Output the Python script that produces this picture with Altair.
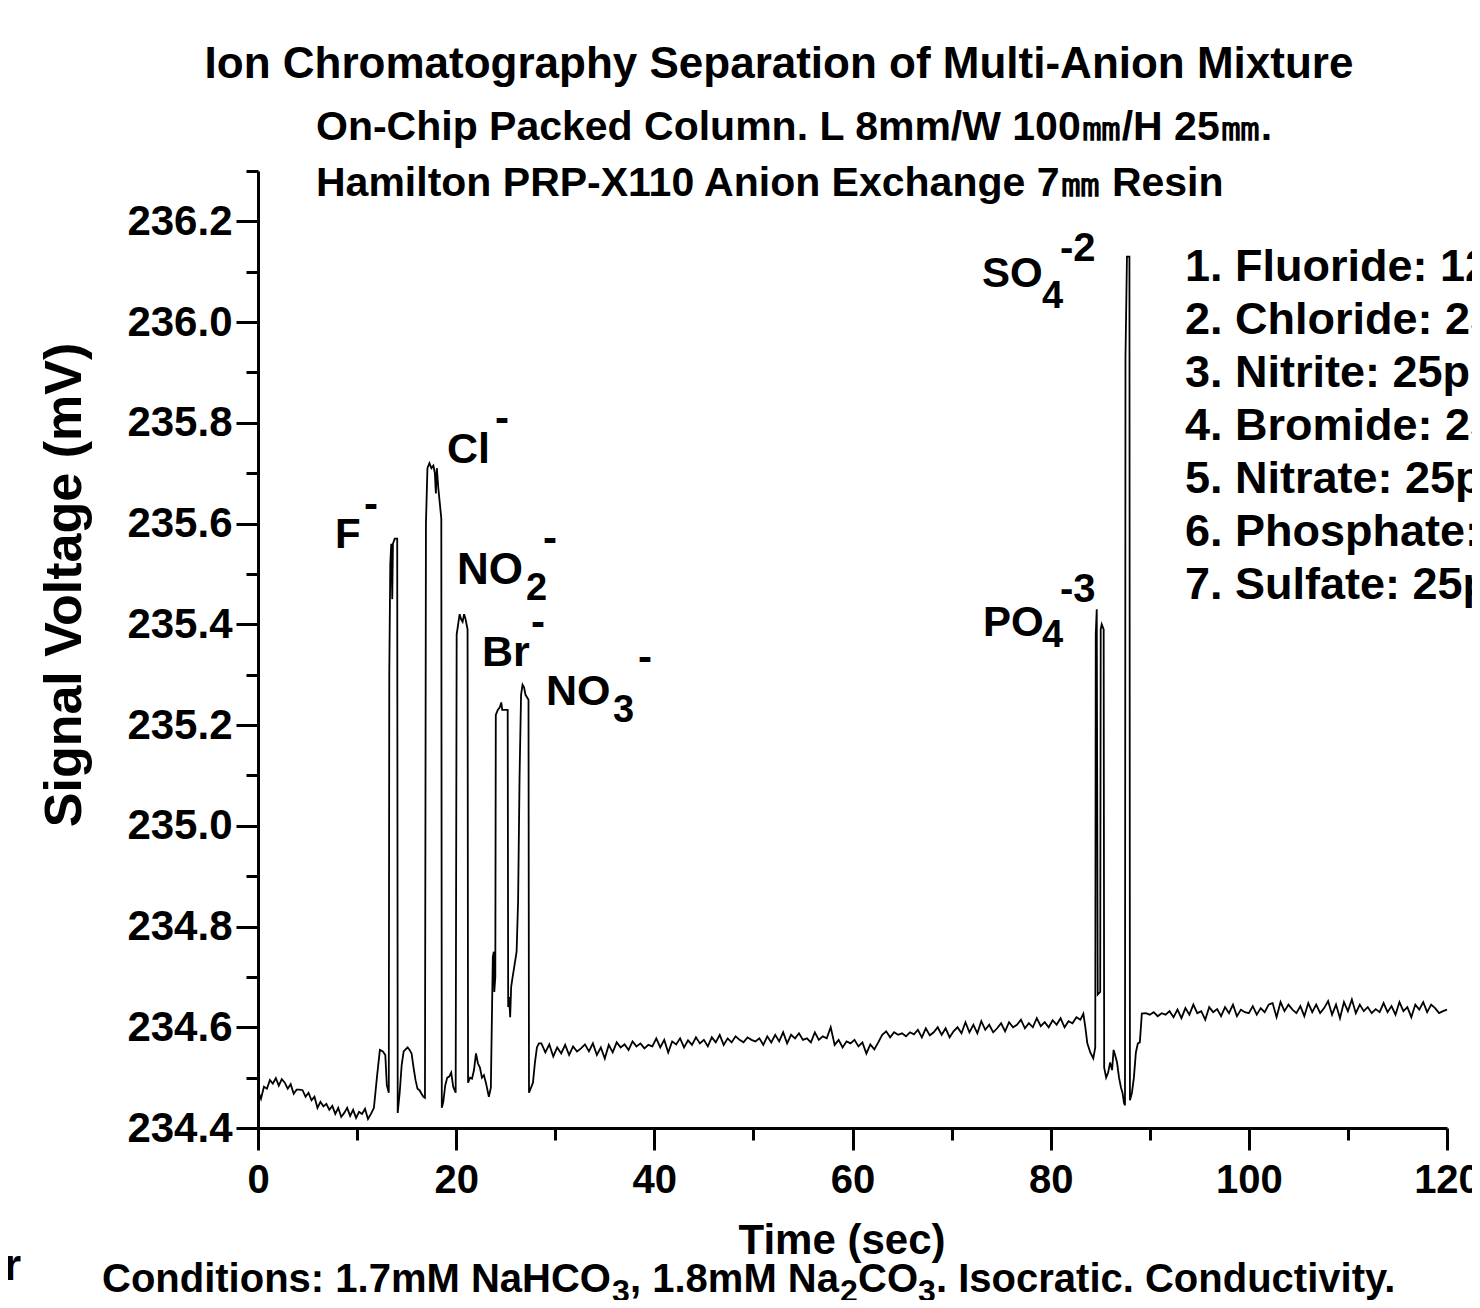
import altair as alt
import pandas as pd

# ---------------- data ----------------
# baseline before the first peaks
time_a = [0.0, 0.3, 0.6, 0.9, 1.2, 1.5, 1.8, 2.1, 2.4, 2.7, 3.0, 3.3, 3.6, 3.9, 4.2, 4.5, 4.8, 5.1, 5.4, 5.7,
          6.0, 6.3, 6.6, 6.9, 7.2, 7.5, 7.8, 8.1, 8.4, 8.7, 9.0, 9.3, 9.6, 9.9, 10.2, 10.5, 10.8, 11.1, 11.4, 11.7]
volt_a = [234.475, 234.458, 234.482, 234.478, 234.495, 234.488, 234.499, 234.484, 234.497, 234.49,
          234.478, 234.487, 234.468, 234.476, 234.476, 234.475, 234.462, 234.47, 234.455, 234.462,
          234.44, 234.452, 234.443, 234.448, 234.436, 234.444, 234.428, 234.44, 234.422, 234.43,
          234.44, 234.424, 234.436, 234.42, 234.432, 234.428, 234.438, 234.418, 234.428, 234.44]

# early peaks: F-, Cl-, NO2-, Br-, NO3-
time_b = [12.0, 12.3, 12.6, 12.85, 13.0, 13.2, 13.25, 13.35, 13.45, 13.55, 13.62, 13.8, 14.05, 14.1,
          14.3, 14.5, 14.7, 14.9, 15.1, 15.3, 15.5, 15.7, 15.9, 16.1, 16.3, 16.5, 16.7, 16.85,
          16.95, 17.1, 17.3, 17.5, 17.7, 17.85, 17.95, 18.05, 18.2, 18.35, 18.5, 18.55,
          18.7, 18.9, 19.1, 19.3, 19.5, 19.7, 19.95,
          20.05, 20.2, 20.35, 20.5, 20.65, 20.8, 20.95, 21.15, 21.2,
          21.4, 21.6, 21.8, 22.0, 22.2, 22.4, 22.6, 22.8, 23.0, 23.3, 23.5,
          23.7, 23.8, 23.85, 23.95, 24.0, 24.2, 24.4, 24.55, 24.65, 24.9, 25.2, 25.25,
          25.35, 25.45, 25.55, 25.7, 25.9, 26.1, 26.25, 26.4, 26.55, 26.7, 26.85, 27.0, 27.3, 27.35,
          27.55, 27.75, 27.95, 28.15, 28.35]
volt_b = [234.5, 234.555, 234.552, 234.545, 234.485, 234.47, 235.3, 235.52, 235.56, 235.45, 235.56, 235.57, 235.57, 234.43,
          234.47, 234.525, 234.552, 234.556, 234.56, 234.555, 234.548, 234.52, 234.495, 234.478, 234.475, 234.468, 234.462, 234.46,
          235.6, 235.71, 235.72, 235.71, 235.715, 235.7, 235.66, 235.71, 235.67, 235.64, 235.61, 234.44,
          234.452, 234.485, 234.5, 234.502, 234.51, 234.482, 234.47,
          235.38, 235.40, 235.42, 235.41, 235.405, 235.42, 235.41, 235.39, 234.49,
          234.5, 234.498, 234.515, 234.548, 234.528, 234.52, 234.5, 234.505, 234.49, 234.462, 234.48,
          234.74, 234.75, 234.67, 234.7, 235.22, 235.23, 235.235, 235.245, 235.23, 235.23, 235.23, 234.64,
          234.66, 234.62, 234.68, 234.7, 234.725, 234.75, 234.85, 235.1, 235.26, 235.28, 235.275, 235.26, 235.25, 234.47,
          234.48, 234.49, 234.53, 234.56, 234.568]

# middle baseline
time_c = [28.6, 29.0, 29.4, 29.8, 30.2, 30.6, 31.0, 31.4, 31.8, 32.2,
          32.6, 33.0, 33.4, 33.8, 34.2, 34.6, 35.0, 35.4, 35.8, 36.2,
          36.6, 37.0, 37.4, 37.8, 38.2, 38.6, 39.0, 39.4, 39.8, 40.2,
          40.6, 41.0, 41.4, 41.8, 42.2, 42.6, 43.0, 43.4, 43.8, 44.2,
          44.6, 45.0, 45.4, 45.8, 46.2, 46.6, 47.0, 47.4, 47.8, 48.2,
          48.6, 49.0, 49.4, 49.8, 50.2, 50.6, 51.0, 51.4, 51.8, 52.2,
          52.6, 53.0, 53.4, 53.8, 54.2, 54.6, 55.0, 55.4, 55.8, 56.2,
          56.6, 57.0, 57.4, 57.8, 58.2, 58.6, 59.0, 59.4, 59.8, 60.2,
          60.6, 61.0, 61.4, 61.8, 62.2, 62.6, 63.0, 63.4, 63.8, 64.2,
          64.6, 65.0, 65.4, 65.8, 66.2, 66.6, 67.0, 67.4, 67.8, 68.2,
          68.6, 69.0, 69.4, 69.8, 70.2, 70.6, 71.0, 71.4, 71.8, 72.2,
          72.6, 73.0, 73.4, 73.8, 74.2, 74.6, 75.0, 75.4, 75.8, 76.2,
          76.6, 77.0, 77.4, 77.8, 78.2, 78.6, 79.0, 79.4, 79.8, 80.2,
          80.6, 81.0, 81.4, 81.8, 82.2, 82.6]
volt_c = [234.568, 234.55, 234.566, 234.542, 234.56, 234.548, 234.565, 234.545, 234.562, 234.552,
          234.558, 234.566, 234.552, 234.568, 234.545, 234.56, 234.538, 234.565, 234.55, 234.57,
          234.56, 234.566, 234.555, 234.572, 234.562, 234.568, 234.558, 234.565, 234.562, 234.578,
          234.56, 234.575, 234.55, 234.572, 234.566, 234.578, 234.56, 234.574, 234.565, 234.58,
          234.568, 234.575, 234.562, 234.58, 234.57, 234.585, 234.565, 234.578, 234.57, 234.582,
          234.575, 234.57, 234.58, 234.575, 234.572, 234.578, 234.565, 234.582, 234.57, 234.585,
          234.572, 234.59, 234.568, 234.585, 234.578, 234.588, 234.575, 234.578, 234.57, 234.59,
          234.575, 234.582, 234.578, 234.6, 234.565, 234.575, 234.56, 234.572, 234.568, 234.575,
          234.562, 234.57, 234.548, 234.566, 234.556, 234.57, 234.585, 234.592, 234.58, 234.59,
          234.585, 234.588, 234.582, 234.59, 234.586, 234.595, 234.58, 234.598, 234.584, 234.59,
          234.6, 234.585, 234.598, 234.58, 234.592, 234.6, 234.588, 234.61, 234.59, 234.605,
          234.588, 234.612, 234.595, 234.605, 234.59, 234.598, 234.608, 234.592, 234.61, 234.6,
          234.605, 234.615, 234.598, 234.608, 234.6, 234.618, 234.602, 234.61, 234.6, 234.614,
          234.605, 234.618, 234.6, 234.612, 234.608, 234.62]

# late peaks: PO4-3, SO4-2
time_d = [83.0, 83.3, 83.5, 83.7, 84.0, 84.3, 84.5, 84.55, 84.65, 84.75, 85.0, 85.05, 85.15, 85.35, 85.4,
          85.6, 85.8, 86.0, 86.2, 86.35, 86.5, 86.7, 86.9, 87.1, 87.25, 87.4, 87.5,
          87.55, 87.7, 87.95, 88.0, 88.2, 88.4, 88.6, 88.8, 89.0, 89.2]
volt_d = [234.615, 234.627, 234.6, 234.568, 234.55, 234.538, 234.56, 235.38, 235.43, 234.665, 234.67, 235.39, 235.4, 235.39, 234.52,
          234.5, 234.51, 234.53, 234.515, 234.555, 234.545, 234.53, 234.5, 234.48, 234.47, 234.45, 234.445,
          235.93, 236.13, 236.13, 234.455, 234.47, 234.5, 234.55, 234.568, 234.57, 234.627]

# final baseline
time_e = [89.6, 90.0, 90.4, 90.8, 91.2, 91.6, 92.0, 92.4, 92.8, 93.2,
          93.6, 94.0, 94.4, 94.8, 95.2, 95.6, 96.0, 96.4, 96.8, 97.2,
          97.6, 98.0, 98.4, 98.8, 99.2, 99.6, 100.0, 100.4, 100.8, 101.2,
          101.6, 102.0, 102.4, 102.8, 103.2, 103.6, 104.0, 104.4, 104.8, 105.2,
          105.6, 106.0, 106.4, 106.8, 107.2, 107.6, 108.0, 108.4, 108.8, 109.2,
          109.6, 110.0, 110.4, 110.8, 111.2, 111.6, 112.0, 112.4, 112.8, 113.2,
          113.6, 114.0, 114.4, 114.8, 115.2, 115.6, 116.0, 116.4, 116.8, 117.2,
          117.6, 118.0, 118.4, 118.8, 119.2, 119.6, 120.0]
volt_e = [234.628, 234.625, 234.63, 234.622, 234.628, 234.625, 234.632, 234.62, 234.635, 234.618,
          234.638, 234.625, 234.645, 234.628, 234.632, 234.615, 234.64, 234.63, 234.636, 234.622,
          234.64, 234.628, 234.645, 234.622, 234.635, 234.63, 234.628, 234.642, 234.625, 234.638,
          234.63, 234.645, 234.648, 234.62, 234.65, 234.632, 234.645, 234.635, 234.628, 234.642,
          234.622, 234.648, 234.63, 234.645, 234.628, 234.638, 234.652, 234.625, 234.645, 234.618,
          234.65, 234.632, 234.655, 234.628, 234.645, 234.632, 234.64, 234.628, 234.636, 234.63,
          234.648, 234.63, 234.642, 234.625, 234.65, 234.632, 234.64, 234.62, 234.645, 234.635,
          234.65, 234.63, 234.645, 234.638, 234.628, 234.632, 234.635]

x_tick_values = [0, 10, 20, 30, 40, 50, 60, 70, 80, 90, 100, 110, 120]
y_tick_values = [234.4, 234.5, 234.6, 234.7, 234.8, 234.9, 235.0, 235.1, 235.2, 235.3,
                 235.4, 235.5, 235.6, 235.7, 235.8, 235.9, 236.0, 236.1, 236.2, 236.3]

legend_lines = ["1. Fluoride: 12.5ppm", "2. Chloride: 25ppm", "3. Nitrite: 25ppm", "4. Bromide: 25ppm",
                "5. Nitrate: 25ppm", "6. Phosphate: 25ppm", "7. Sulfate: 25ppm"]

# ---------------- chart ----------------
FONT = "Liberation Sans"
X0, Y0 = 258, 171          # page position of the plot origin
W, H = 1189, 957

trace = pd.DataFrame({
    "t": time_a + time_b + time_c + time_d + time_e,
    "v": volt_a + volt_b + volt_c + volt_d + volt_e,
})

x_axis = alt.Axis(
    values=x_tick_values, title=None, grid=False,
    labelExpr="datum.value % 20 === 0 ? datum.label : ''",
    tickSize={"condition": {"test": "datum.value % 20 === 0", "value": 22}, "value": 12},
    labelPadding=10, labelOverlap=False, labelFlush=False, labelFontSize=40,
)
y_axis = alt.Axis(
    values=y_tick_values, title=None, grid=False,
    labelExpr="round(datum.value*10) % 2 === 0 ? format(datum.value, '.1f') : ''",
    tickSize={"condition": {"test": "round(datum.value*10) % 2 === 0", "value": 22}, "value": 12},
    labelPadding=4, labelOverlap=False, labelFlush=False, labelFontSize=42,
)

line = alt.Chart(trace).mark_line(color="black", strokeWidth=1.8).encode(
    x=alt.X("t:Q", scale=alt.Scale(domain=[0, 120], nice=False, zero=False), axis=x_axis),
    y=alt.Y("v:Q", scale=alt.Scale(domain=[234.4, 236.3], nice=False, zero=False), axis=y_axis),
)

anchor = pd.DataFrame({"k": [0]})


def label(text, x, y, size, align="left", baseline="alphabetic", angle=0):
    return alt.Chart(anchor).mark_text(
        text=text, font=FONT, fontWeight="bold", fontSize=size, align=align,
        baseline=baseline, angle=angle, color="black",
    ).encode(x=alt.value(x - X0), y=alt.value(y - Y0))


texts = [
    label("Ion Chromatography Separation of Multi-Anion Mixture", 779, 78, 44, align="center"),
    label("On-Chip Packed Column. L 8mm/W 100㎜/H 25㎜.", 316, 140, 41),
    label("Hamilton PRP-X110 Anion Exchange 7㎜ Resin", 316, 196, 41),
    label("Signal Voltage (mV)", 65, 585, 52, align="center", baseline="middle", angle=270),
    label("Time (sec)", 842, 1254, 42, align="center"),
    label("r", 4, 1280, 44),
    # conditions line with subscripts
    label("Conditions: 1.7mM NaHCO", 102, 1292, 40),
    label("3", 612, 1302, 32),
    label(", 1.8mM Na", 630, 1292, 40),
    label("2", 840, 1302, 32),
    label("CO", 858, 1292, 40),
    label("3", 918, 1302, 32),
    label(". Isocratic. Conductivity.", 936, 1292, 40),
    # peak labels
    label("F", 335, 548, 42), label("-", 364, 518, 42),
    label("Cl", 447, 463, 43), label("-", 495, 432, 42),
    label("NO", 457, 584, 44), label("2", 526, 600, 38), label("-", 543, 552, 42),
    label("Br", 482, 666, 43), label("-", 531, 636, 42),
    label("NO", 546, 705, 43), label("3", 613, 722, 38), label("-", 638, 671, 42),
    label("SO", 982, 287, 42), label("4", 1042, 308, 38), label("-2", 1060, 261, 40),
    label("PO", 983, 636, 42), label("4", 1042, 647, 38), label("-3", 1060, 602, 40),
]
for i, s in enumerate(legend_lines):
    texts.append(label(s, 1185, 281 + 53 * i, 45))

chart = alt.layer(line, *texts).properties(
    width=W, height=H,
    autosize=alt.AutoSizeParams(type="none"),
    padding={"left": X0 - 8, "top": Y0 - 8, "right": 25, "bottom": 172},
).configure_view(stroke=None).configure_axis(
    domainColor="black", domainWidth=3, tickColor="black", tickWidth=3,
    labelFont=FONT, labelFontWeight="bold", labelColor="black",
)

chart.save("out.html", embed_options={"renderer": "svg", "actions": False})
